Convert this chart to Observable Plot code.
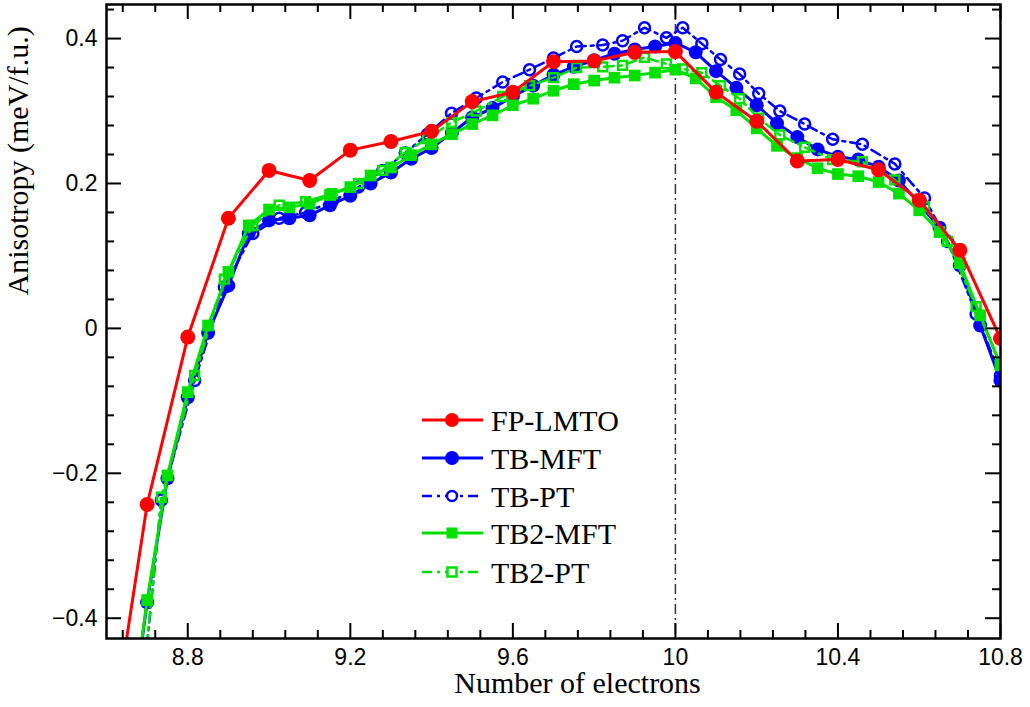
<!DOCTYPE html>
<html><head><meta charset="utf-8">
<script src="https://cdn.jsdelivr.net/npm/d3@7"></script>
<script src="https://cdn.jsdelivr.net/npm/@observablehq/plot@0.6"></script>
<style>body{margin:0;background:#fff}#wrap{position:relative;width:1030px;height:707px}</style>
</head><body><div id="wrap"></div>
<script>
// ---- data ----
const seriesNames = ["FP-LMTO", "TB-MFT", "TB-PT", "TB2-MFT", "TB2-PT"];
const fpX = [8.6, 8.7, 8.8, 8.9, 9.0, 9.1, 9.2, 9.3, 9.4, 9.5, 9.6, 9.7, 9.8, 9.9, 10.0, 10.1, 10.2, 10.3, 10.4, 10.5, 10.6, 10.7, 10.8];
const fpLmto = [-0.61, -0.243, -0.012, 0.152, 0.218, 0.204, 0.246, 0.258, 0.272, 0.313, 0.326, 0.368, 0.369, 0.381, 0.382, 0.326, 0.286, 0.231, 0.233, 0.219, 0.177, 0.108, -0.014];
const mftX = [8.65, 8.7, 8.75, 8.8, 8.85, 8.9, 8.95, 9.0, 9.05, 9.1, 9.15, 9.2, 9.25, 9.3, 9.35, 9.4, 9.45, 9.5, 9.55, 9.6, 9.65, 9.7, 9.75, 9.8, 9.85, 9.9, 9.95, 10.0, 10.05, 10.1, 10.15, 10.2, 10.25, 10.3, 10.35, 10.4, 10.45, 10.5, 10.55, 10.6, 10.65, 10.7, 10.75, 10.8];
const tbMft = [-0.585, -0.378, -0.207, -0.095, -0.006, 0.059, 0.131, 0.149, 0.152, 0.156, 0.170, 0.183, 0.200, 0.215, 0.234, 0.249, 0.270, 0.291, 0.304, 0.320, 0.335, 0.350, 0.361, 0.370, 0.379, 0.385, 0.389, 0.394, 0.381, 0.355, 0.332, 0.308, 0.283, 0.264, 0.247, 0.237, 0.233, 0.223, 0.204, 0.172, 0.139, 0.087, 0.004, -0.072];
const tb2Mft = [-0.585, -0.375, -0.203, -0.088, 0.004, 0.078, 0.142, 0.164, 0.167, 0.172, 0.184, 0.195, 0.211, 0.222, 0.239, 0.254, 0.268, 0.282, 0.294, 0.308, 0.317, 0.328, 0.337, 0.342, 0.346, 0.349, 0.353, 0.357, 0.345, 0.319, 0.301, 0.276, 0.252, 0.235, 0.221, 0.213, 0.210, 0.202, 0.186, 0.163, 0.133, 0.090, 0.018, -0.051];
const ptX = [8.655, 8.735, 8.817, 8.89, 8.96, 9.025, 9.09, 9.155, 9.22, 9.28, 9.335, 9.39, 9.449, 9.51, 9.575, 9.641, 9.70, 9.757, 9.821, 9.870, 9.924, 9.978, 10.018, 10.065, 10.111, 10.158, 10.205, 10.257, 10.318, 10.387, 10.46, 10.54, 10.613, 10.67, 10.74, 10.8];
const tbPt = [-0.69, -0.237, -0.072, 0.057, 0.131, 0.152, 0.160, 0.175, 0.195, 0.218, 0.242, 0.268, 0.297, 0.318, 0.340, 0.357, 0.373, 0.389, 0.391, 0.397, 0.415, 0.401, 0.415, 0.393, 0.371, 0.351, 0.324, 0.300, 0.282, 0.261, 0.254, 0.227, 0.180, 0.120, 0.020, -0.065];
const tb2Pt = [-0.69, -0.233, -0.065, 0.068, 0.142, 0.170, 0.175, 0.186, 0.200, 0.218, 0.243, 0.262, 0.284, 0.300, 0.320, 0.335, 0.346, 0.360, 0.361, 0.363, 0.374, 0.365, 0.358, 0.353, 0.335, 0.317, 0.290, 0.267, 0.250, 0.233, 0.230, 0.205, 0.168, 0.120, 0.030, -0.050];

const xMajor = [8.8, 9.2, 9.6, 10, 10.4, 10.8];
const xMajorLabels = ["8.8", "9.2", "9.6", "10", "10.4", "10.8"];
const xMinor = [8.64, 8.72, 8.88, 8.96, 9.04, 9.12, 9.28, 9.36, 9.44, 9.52, 9.68, 9.76, 9.84, 9.92, 10.08, 10.16, 10.24, 10.32, 10.48, 10.56, 10.64, 10.72];
const yMajor = [-0.4, -0.2, 0, 0.2, 0.4];
const yMajorLabels = ["\u22120.4", "\u22120.2", "0", "0.2", "0.4"];
const yMinor = [-0.36, -0.32, -0.28, -0.24, -0.16, -0.12, -0.08, -0.04, 0.04, 0.08, 0.12, 0.16, 0.24, 0.28, 0.32, 0.36, 0.44];
const refLine = [10];
const xTitle = "Number of electrons";
const yTitle = "Anisotropy (meV/f.u.)";

// ---- layout ----
const W = 1030, H = 707, mL = 106, mR = 30, mT = 4, mB = 69;
const FW = W - mL - mR, FH = H - mT - mB;
const RED = "#ff0000", BLUE = "#0000ff", GREEN = "#00e000";
const DASH = "10,5,3,5";
const SERIF = "Liberation Serif";
const SANS = "Liberation Sans";

const mk = (xs, ys) => xs.map((x, i) => ({x, y: ys[i]}));
const fp = mk(fpX, fpLmto), tbm = mk(mftX, tbMft), tb2m = mk(mftX, tb2Mft), tbp = mk(ptX, tbPt), tb2p = mk(ptX, tb2Pt);

const chart = Plot.plot({
  width: W, height: H,
  marginLeft: mL, marginRight: mR, marginTop: mT, marginBottom: mB,
  style: {background: "white", fontFamily: SANS},
  x: {domain: [8.6, 10.8], axis: null},
  y: {domain: [-0.428, 0.447], axis: null},
  marks: [
    Plot.ruleX(refLine, {stroke: "#333", strokeWidth: 1.5, strokeDasharray: "10,4,2,4"}),
    // TB-MFT
    Plot.line(tbm, {x: "x", y: "y", stroke: BLUE, strokeWidth: 3, clip: true}),
    Plot.dot(tbm, {x: "x", y: "y", fill: BLUE, r: 7, clip: true}),
    // TB-PT
    Plot.line(tbp, {x: "x", y: "y", stroke: BLUE, strokeWidth: 2.5, strokeDasharray: DASH, clip: true}),
    Plot.dot(tbp, {x: "x", y: "y", stroke: BLUE, fill: "none", strokeWidth: 2.5, r: 5.5, clip: true}),
    // TB2-MFT
    Plot.line(tb2m, {x: "x", y: "y", stroke: GREEN, strokeWidth: 3, clip: true}),
    Plot.dot(tb2m, {x: "x", y: "y", fill: GREEN, symbol: "square", r: 6.6, clip: true}),
    // TB2-PT
    Plot.line(tb2p, {x: "x", y: "y", stroke: GREEN, strokeWidth: 2.5, strokeDasharray: DASH, clip: true}),
    Plot.dot(tb2p, {x: "x", y: "y", stroke: GREEN, fill: "none", strokeWidth: 2.5, symbol: "square", r: 5, clip: true}),
    // FP-LMTO
    Plot.line(fp, {x: "x", y: "y", stroke: RED, strokeWidth: 3, clip: true}),
    Plot.dot(fp, {x: "x", y: "y", fill: RED, r: 7.5, clip: true}),
    // ticks (inward, all four sides)
    Plot.ruleX(xMajor, {insetTop: FH - 15, stroke: "black", strokeWidth: 2}),
    Plot.ruleX(xMajor, {insetBottom: FH - 15, stroke: "black", strokeWidth: 2}),
    Plot.ruleX(xMinor, {insetTop: FH - 8, stroke: "black", strokeWidth: 2}),
    Plot.ruleX(xMinor, {insetBottom: FH - 8, stroke: "black", strokeWidth: 2}),
    Plot.ruleY(yMajor, {insetRight: FW - 15, stroke: "black", strokeWidth: 2}),
    Plot.ruleY(yMajor, {insetLeft: FW - 15, stroke: "black", strokeWidth: 2}),
    Plot.ruleY(yMinor, {insetRight: FW - 8, stroke: "black", strokeWidth: 2}),
    Plot.ruleY(yMinor, {insetLeft: FW - 8, stroke: "black", strokeWidth: 2}),
    Plot.frame({stroke: "black", strokeWidth: 2.5}),
    // tick labels
    Plot.text(xMajor, {x: d => d, text: (d, i) => xMajorLabels[i], frameAnchor: "bottom", dy: 26, fontSize: 23, fontFamily: SANS, fill: "black"}),
    Plot.text(yMajor, {y: d => d, text: (d, i) => yMajorLabels[i], frameAnchor: "left", dx: -9, textAnchor: "end", fontSize: 23, fontFamily: SANS, fill: "black"}),
    // axis titles
    Plot.text([xTitle], {text: d => d, frameAnchor: "bottom", dx: 24, dy: 54, fontSize: 30, fontFamily: SERIF, fill: "black"}),
    Plot.text([yTitle], {text: d => d, frameAnchor: "left", dx: -88, dy: -26, rotate: -90, fontSize: 30, fontFamily: SERIF, fill: "black"})
  ]
});
document.getElementById("wrap").appendChild(chart);

// ---- legend (inside the frame) ----
const legend = [
  {name: seriesNames[0], color: RED, dash: null, shape: "circle", fill: true},
  {name: seriesNames[1], color: BLUE, dash: null, shape: "circle", fill: true},
  {name: seriesNames[2], color: BLUE, dash: DASH, shape: "circle", fill: false},
  {name: seriesNames[3], color: GREEN, dash: null, shape: "square", fill: true},
  {name: seriesNames[4], color: GREEN, dash: DASH, shape: "square", fill: false}
];
const lg = d3.select("#wrap").append("svg")
  .attr("width", W).attr("height", H)
  .style("position", "absolute").style("left", "0px").style("top", "0px");
const rowY = [420, 458, 496, 533, 572];
legend.forEach((e, i) => {
  const g = lg.append("g").attr("transform", `translate(0,${rowY[i]})`);
  g.append("line").attr("x1", 422).attr("x2", 483).attr("y1", 0).attr("y2", 0)
    .attr("stroke", e.color).attr("stroke-width", e.dash ? 2.5 : 3)
    .attr("stroke-dasharray", e.dash);
  if (e.shape === "circle") {
    g.append("circle").attr("cx", 452).attr("cy", 0).attr("r", e.fill ? 7 : 5)
      .attr("fill", e.fill ? e.color : "white").attr("stroke", e.fill ? "none" : e.color).attr("stroke-width", 2.5);
  } else {
    const s = e.fill ? 11 : 9;
    g.append("rect").attr("x", 452 - s / 2).attr("y", -s / 2).attr("width", s).attr("height", s)
      .attr("fill", e.fill ? e.color : "white").attr("stroke", e.fill ? "none" : e.color).attr("stroke-width", 2.5);
  }
  g.append("text").attr("x", 491).attr("y", 0).attr("dy", "0.35em")
    .attr("font-family", SERIF).attr("font-size", 30)
    .attr("fill", "black").text(e.name);
});
</script>
</body></html>
